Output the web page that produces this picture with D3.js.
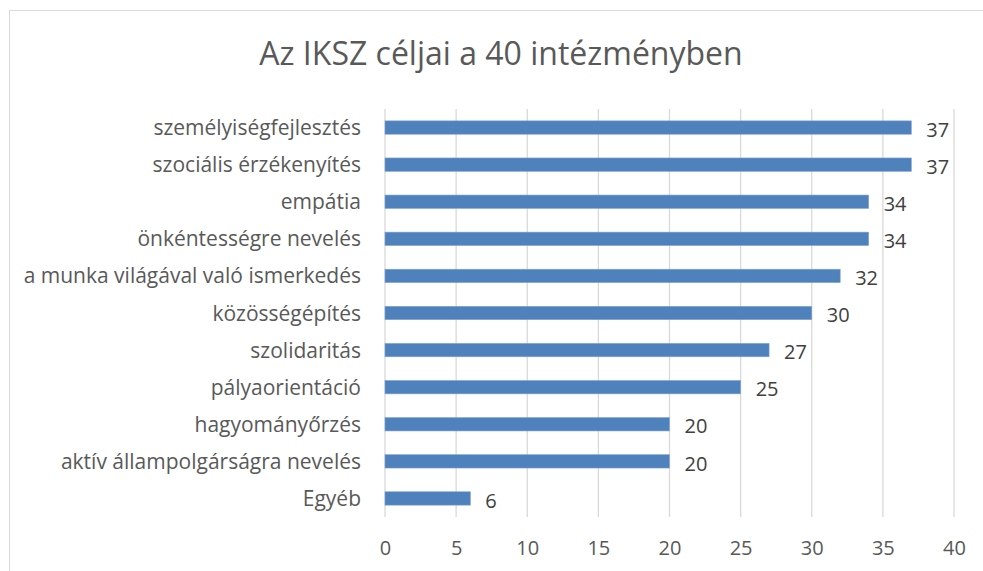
<!DOCTYPE html>
<html>
<head>
<meta charset="utf-8">
<script src="https://cdn.jsdelivr.net/npm/d3@7"></script>
<style>
  body { margin: 0; background: #fff; }
  text { font-family: "Open Sans", sans-serif; }
</style>
</head>
<body>
<div id="chart"></div>
<script>
// data
var categories = ["személyiségfejlesztés", "szociális érzékenyítés", "empátia",
  "önkéntességre nevelés", "a munka világával való ismerkedés", "közösségépítés",
  "szolidaritás", "pályaorientáció", "hagyományőrzés",
  "aktív állampolgárságra nevelés", "Egyéb"];
var values = [37, 37, 34, 34, 32, 30, 27, 25, 20, 20, 6];
var xTicks = [0, 5, 10, 15, 20, 25, 30, 35, 40];

var W = 983, H = 571;
var margin = {top: 109, right: 29, bottom: 54, left: 385};
var width = W - margin.left - margin.right,
    height = H - margin.top - margin.bottom;

var svg = d3.select("#chart").append("svg")
    .attr("width", W)
    .attr("height", H);

// chart frame
svg.append("rect")
    .attr("x", 9.5).attr("y", 10.5)
    .attr("width", W).attr("height", H)
    .attr("fill", "none")
    .attr("stroke", "#d9d9d9");

svg.append("text")
    .attr("x", 501)
    .attr("y", 65)
    .attr("text-anchor", "middle")
    .attr("fill", "#595959")
    .style("font-size", "32px")
    .text("Az IKSZ céljai a 40 intézményben");

var g = svg.append("g")
    .attr("transform", "translate(" + margin.left + "," + margin.top + ")");

var x = d3.scaleLinear().domain([0, 40]).range([0, width]);
var y = d3.scaleBand().domain(categories).range([0, height]).paddingInner(0.64).paddingOuter(0.32);

// gridlines
g.selectAll(".grid")
    .data(xTicks)
  .enter().append("line")
    .attr("x1", function(d) { return x(d); })
    .attr("x2", function(d) { return x(d); })
    .attr("y1", 0)
    .attr("y2", height)
    .attr("stroke", "#d9d9d9")
    .attr("stroke-width", 1.3);

// bars
g.selectAll(".bar")
    .data(values)
  .enter().append("rect")
    .attr("x", x(0))
    .attr("y", function(d, i) { return y(categories[i]); })
    .attr("width", function(d) { return x(d) - x(0); })
    .attr("height", y.bandwidth())
    .attr("fill", "#4f81bd")
    .attr("stroke", "#7ea3d0")
    .attr("stroke-width", 0.6);

// value labels
g.selectAll(".val")
    .data(values)
  .enter().append("text")
    .attr("x", function(d) { return x(d) + 15; })
    .attr("y", function(d, i) { return y(categories[i]) + y.bandwidth() / 2 + 2; })
    .attr("dy", "0.36em")
    .attr("fill", "#404040")
    .style("font-size", "20px")
    .text(function(d) { return d; });

// y axis labels
var yAxis = g.append("g")
    .call(d3.axisLeft(y).tickSize(0).tickPadding(24));
yAxis.select(".domain").remove();
yAxis.selectAll("text")
    .attr("fill", "#595959")
    .attr("dy", "0.36em")
    .style("font-size", "21px")
    .style("font-family", "'Open Sans', sans-serif");

// x axis labels
var xAxis = g.append("g")
    .attr("transform", "translate(0," + height + ")")
    .call(d3.axisBottom(x).tickValues(xTicks).tickSize(0).tickPadding(24));
xAxis.select(".domain").remove();
xAxis.selectAll("text")
    .attr("fill", "#595959")
    .style("font-size", "20px")
    .style("font-family", "'Open Sans', sans-serif");
</script>
</body>
</html>
